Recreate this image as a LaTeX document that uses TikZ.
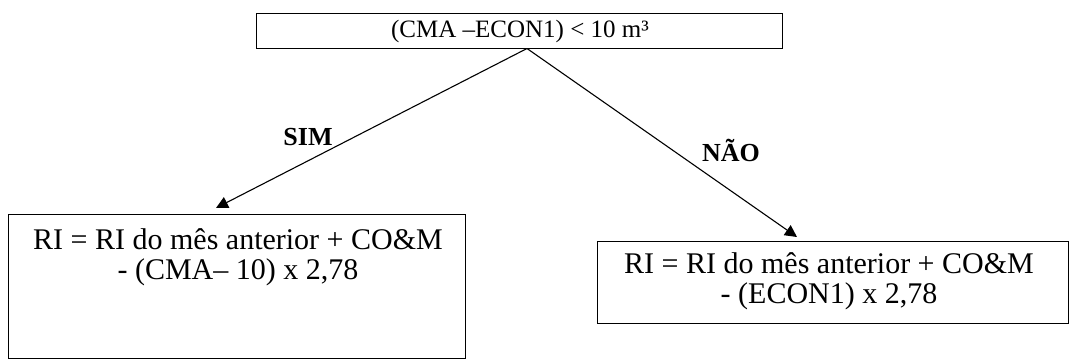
\documentclass[tikz,border=0pt]{standalone}
\usepackage{fontspec}
\setmainfont{Liberation Serif}
\usetikzlibrary{arrows.meta}
\tikzset{
  boxline/.style={draw=black, line width=1pt, inner sep=0pt},
  arr/.style={line width=1.1pt, -{Triangle[length=12pt,width=12pt]}},
  toptext/.style={font=\fontsize{25}{26}\selectfont, inner sep=0pt},
  bottext/.style={font=\fontsize{30}{30}\selectfont, align=center, inner sep=0pt},
  lbl/.style={font=\fontsize{26}{28}\selectfont\bfseries, inner sep=0pt}
}
\begin{document}
\begin{tikzpicture}[x=1pt,y=-1pt]
\useasboundingbox (0,0) rectangle (1073,360);
% top box
\node[boxline, minimum width=526pt, minimum height=35pt] (top) at (519,30.5) {};
\node[toptext] (toplbl) at (520,31) {(CMA –ECON1) < 10 m³};
% left box
\node[boxline, minimum width=457pt, minimum height=144pt] (left) at (236.5,286) {};
\node[bottext] (lefttxt) at (238,257) {RI = RI do mês anterior + CO\&M\\- (CMA– 10) x 2,78};
% right box
\node[boxline, minimum width=471pt, minimum height=82pt] (right) at (832.5,282) {};
\node[bottext] (righttxt) at (829,281) {RI = RI do mês anterior + CO\&M\\- (ECON1) x 2,78};
% connectors
\coordinate (apex) at (527,48.5);
\coordinate (ltip) at (216,208);
\coordinate (rtip) at (797,237);
\draw[arr] (apex) -- (ltip);
\draw[arr] (apex) -- (rtip);
% labels
\node[lbl] (sim) at (308,137) {SIM};
\node[lbl] (nao) at (731,150) {NÃO};
\end{tikzpicture}
\end{document}
